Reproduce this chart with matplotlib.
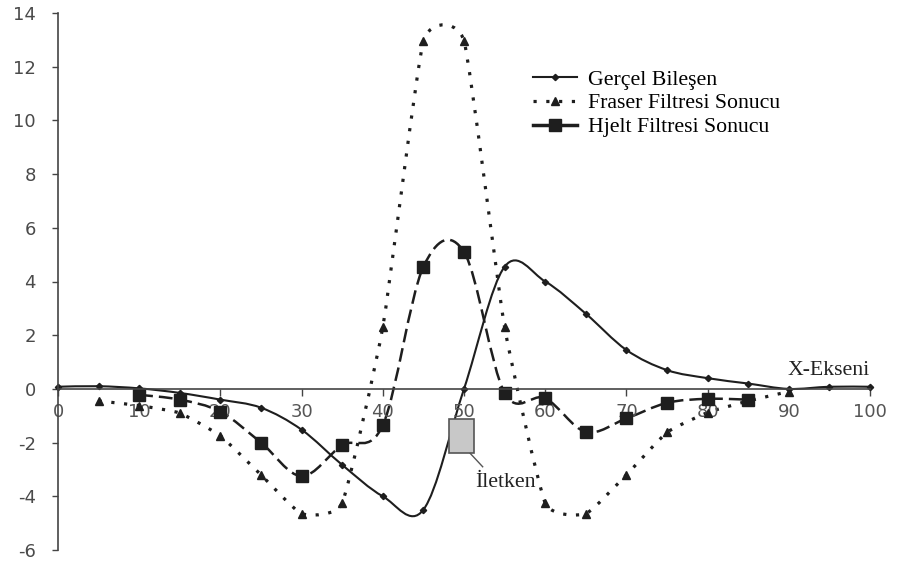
#%% -- imports --
import numpy as np
import matplotlib
matplotlib.use('Agg')
import matplotlib.pyplot as plt
from matplotlib.path import Path
from matplotlib.patches import PathPatch, Rectangle
from matplotlib.lines import Line2D


#%% -- data --
x_gercel = [0, 5, 10, 15, 20, 25, 30, 35, 40, 45, 50, 55, 60, 65, 70, 75, 80, 85, 90, 95, 100]
y_gercel = [0.08, 0.1, 0.02, -0.15, -0.4, -0.7, -1.52, -2.83, -4.0, -4.5, 0.0, 4.55, 4.0, 2.8,
            1.45, 0.7, 0.4, 0.2, 0.0, 0.08, 0.08]

x_fraser = [5, 10, 15, 20, 25, 30, 35, 40, 45, 50, 55, 60, 65, 70, 75, 80, 85, 90]
y_fraser = [-0.45, -0.62, -0.9, -1.75, -3.2, -4.65, -4.25, 2.3, 12.96, 12.96, 2.3, -4.25, -4.65,
            -3.2, -1.62, -0.88, -0.45, -0.1]

x_hjelt = [10, 15, 20, 25, 30, 35, 40, 45, 50, 55, 60, 65, 70, 75, 80, 85]
y_hjelt = [-0.22, -0.4, -0.85, -2.0, -3.25, -2.1, -1.35, 4.55, 5.1, -0.15, -0.35, -1.6, -1.1,
           -0.52, -0.37, -0.4]

labels = ['Gerçel Bileşen', 'Fraser Filtresi Sonucu', 'Hjelt Filtresi Sonucu']
x_ticks = [0, 10, 20, 30, 40, 50, 60, 70, 80, 90, 100]
y_ticks = [-6, -4, -2, 0, 2, 4, 6, 8, 10, 12, 14]

# conductor box (x0, x1, y0, y1) and its label
box_x = [48.2, 51.2]
box_y = [-2.38, -1.12]
iletken_xy = (51.4, -3.5)


#%% -- helpers --
def smooth_path(xs, ys, t):
    # excel-like smoothed line: catmull-rom segments as cubic beziers
    xs, ys = np.asarray(xs, float), np.asarray(ys, float)
    n = len(xs)
    verts = [(xs[0], ys[0])]
    codes = [Path.MOVETO]
    for i in range(n - 1):
        p0 = i - 1 if i > 0 else i
        p3 = i + 2 if i + 2 < n else i + 1
        c1 = (xs[i] + t * (xs[i + 1] - xs[p0]), ys[i] + t * (ys[i + 1] - ys[p0]))
        c2 = (xs[i + 1] - t * (xs[p3] - xs[i]), ys[i + 1] - t * (ys[p3] - ys[i]))
        verts += [c1, c2, (xs[i + 1], ys[i + 1])]
        codes += [Path.CURVE4] * 3
    return Path(verts, codes)


#%% -- plot --
col = '#1e1e1e'
ls_fraser = (0, (1.0, 3.0))
ls_hjelt = (0, (5.5, 2.4))
serif = {'family': 'Liberation Serif', 'size': 15.7}

fig = plt.figure(figsize=(8.97, 5.72), dpi=100)
ax = fig.add_axes([58 / 897, 22 / 572, 812 / 897, 537 / 572])

ax.add_patch(PathPatch(smooth_path(x_fraser, y_fraser, 0.075), fill=False, edgecolor=col,
                       lw=2.3, linestyle=ls_fraser))
ax.add_patch(PathPatch(smooth_path(x_hjelt, y_hjelt, 1 / 6), fill=False, edgecolor=col,
                       lw=1.8, linestyle=ls_hjelt))
ax.add_patch(PathPatch(smooth_path(x_gercel, y_gercel, 1 / 6), fill=False, edgecolor=col,
                       lw=1.5))

ax.plot(x_fraser, y_fraser, ls='none', marker='^', ms=6, color=col, clip_on=False)
ax.plot(x_hjelt, y_hjelt, ls='none', marker='s', ms=9, color=col, clip_on=False)
ax.plot(x_gercel, y_gercel, ls='none', marker='D', ms=3.2, color=col, clip_on=False)

ax.set_xlim(0, 100)
ax.set_ylim(-6, 14)
for s in ['top', 'right']:
    ax.spines[s].set_visible(False)
ax.spines['bottom'].set_position(('data', 0))
ax.spines['bottom'].set_color('#444444')
ax.spines['bottom'].set_linewidth(1.2)
ax.spines['left'].set_color('#444444')
ax.spines['left'].set_linewidth(1.2)

ax.set_xticks(x_ticks)
ax.set_yticks(y_ticks)
ax.set_xticklabels([str(v) for v in x_ticks])
ax.set_yticklabels([str(v) for v in y_ticks])
ax.tick_params(axis='x', direction='out', length=5, width=1, color='#444444', pad=5,
               labelsize=13, labelcolor='#555555')
ax.tick_params(axis='y', direction='out', length=4, width=1, color='#444444', pad=12,
               labelsize=13, labelcolor='#4a4a4a')

# conductor
ax.add_patch(Rectangle((box_x[0], box_y[0]), box_x[1] - box_x[0], box_y[1] - box_y[0],
                       facecolor='#c8c8c8', edgecolor='#555555', lw=1.2, zorder=5))
ax.plot([box_x[1] - 0.5, iletken_xy[0] + 0.9], [box_y[0], iletken_xy[1] + 0.6],
        color='#555555', lw=1)
ax.text(iletken_xy[0], iletken_xy[1], 'İletken', fontdict=serif, ha='left', va='center',
        color='#222222')
ax.text(100, 0.7, 'X-Ekseni', fontdict=serif, ha='right', va='center', color='#222222')

handles = [
    Line2D([], [], color=col, lw=1.5, marker='D', ms=3.2),
    Line2D([], [], color=col, lw=2.3, ls=ls_fraser, marker='^', ms=6),
    Line2D([], [], color=col, lw=2.5, marker='s', ms=8),
]
ax.legend(handles, labels, loc='upper left', bbox_to_anchor=(0.585, 0.895), frameon=False,
          prop=serif, handlelength=2.0, handletextpad=0.5, labelspacing=0.16,
          borderaxespad=0, borderpad=0)

plt.savefig('out.png', dpi=100)
